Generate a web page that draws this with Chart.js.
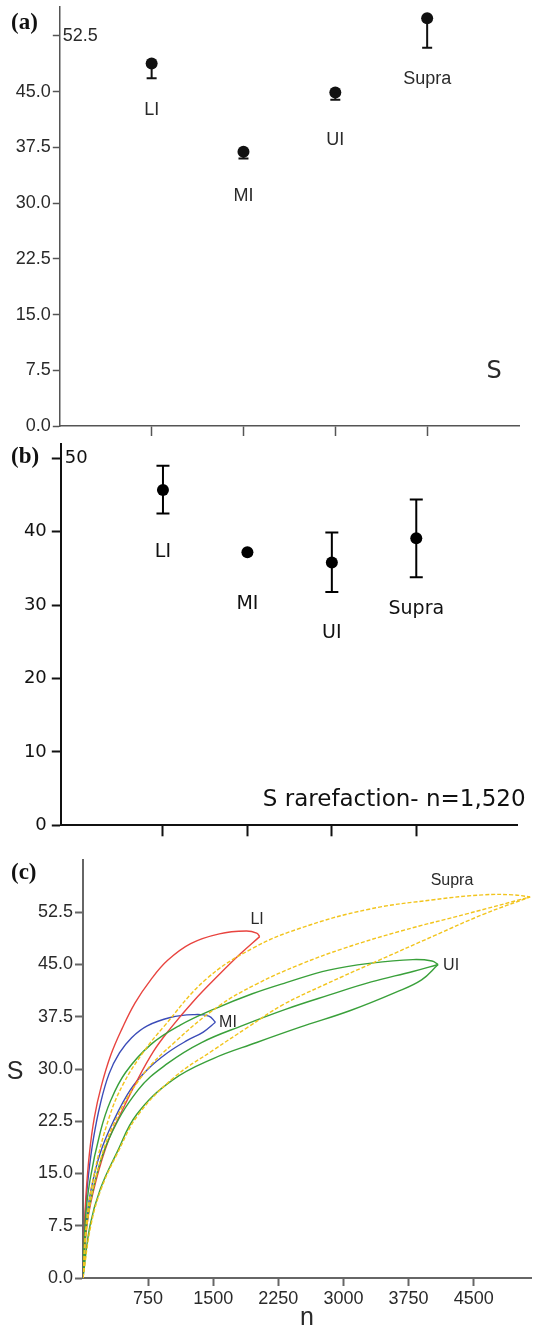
<!DOCTYPE html>
<html>
<head>
<meta charset="utf-8">
<script src="https://cdn.jsdelivr.net/npm/chart.js@4.4.0/dist/chart.umd.min.js"></script>
<style>
  html, body { margin: 0; padding: 0; background: #fff; }
  #wrap { position: relative; width: 533px; height: 1331px; overflow: hidden; }
  canvas { position: absolute; left: 0; }
  #chartA { top: 0; }
  #chartB { top: 436px; }
  #chartC { top: 840px; }
</style>
</head>
<body>
<div id="wrap">
  <canvas id="chartA" width="533" height="445"></canvas>
  <canvas id="chartB" width="533" height="402"></canvas>
  <canvas id="chartC" width="533" height="491"></canvas>
</div>
<script>
// sites along the shore
const sites = ["LI", "MI", "UI", "Supra"];
const sitePos = [1, 2, 3, 4];

// (a) observed richness S, lower end of the bar
const obsS = [48.8, 36.9, 44.9, 54.9];
const obsLow = [46.8, 36.0, 43.9, 50.9];
const obsLabelY = [42.5, 31.0, 38.5, 46.7];
const ticksA = [0, 7.5, 15, 22.5, 30, 37.5, 45, 52.5];

// (b) S rarefied to n = 1,520
const rareS = [45.7, 37.2, 35.8, 39.1];
const rareLow = [42.5, 37.2, 31.8, 33.8];
const rareHigh = [49.0, 37.2, 39.9, 44.4];
const rareLabelY = [37.3, 30.1, 26.2, 29.4];
const ticksB = [0, 10, 20, 30, 40, 50];

// (c) rarefaction curves, [n, S]
const ticksCx = [750, 1500, 2250, 3000, 3750, 4500];
const ticksCy = [0, 7.5, 15, 22.5, 30, 37.5, 45, 52.5];

const liUpper = [[0, 0], [12, 6], [35, 12], [75, 18], [130, 23], [210, 27.5], [320, 32], [450, 35.8], [600, 39.5], [780, 42.8], [975, 45.6], [1240, 48.0], [1570, 49.4], [1880, 49.8], [2000, 49.5], [2035, 49.0]];
const liLower = [[0, 0], [50, 8], [150, 14], [300, 20], [450, 24], [600, 27.8], [810, 32.5], [1005, 35.8], [1270, 39.7], [1580, 43.7], [1810, 46.5], [2035, 49.0]];

const miUpper = [[0, 0], [10, 5], [30, 10], [65, 15], [120, 20], [200, 25], [300, 29.3], [420, 32.3], [560, 34.5], [740, 36.2], [1005, 37.4], [1270, 37.8], [1450, 37.6], [1525, 36.7]];
const miLower = [[0, 0], [30, 7], [90, 12.5], [200, 18], [350, 22.5], [545, 27.0], [740, 29.9], [970, 32.3], [1200, 34.1], [1385, 35.3], [1525, 36.7]];

const uiUpper = [[0, 0], [25, 8], [80, 14], [200, 21], [320, 25.5], [490, 29.5], [780, 33.5], [1120, 36.3], [1510, 38.6], [1950, 40.8], [2340, 42.4], [2830, 44.2], [3320, 45.2], [3800, 45.7], [4020, 45.5], [4090, 45.0]];
const uiMean = [[0, 0], [40, 7.5], [130, 13.5], [300, 20], [635, 27], [975, 30.8], [1365, 33.8], [1850, 36.3], [2340, 38.6], [2830, 40.6], [3320, 42.5], [3800, 44.0], [4090, 45.0]];
const uiLower = [[0, 0], [80, 7.5], [200, 12.8], [390, 18], [620, 23.5], [1030, 28.4], [1500, 31.5], [2000, 33.8], [2500, 36.0], [3080, 38.4], [3600, 41.0], [3900, 42.8], [4090, 45.0]];

const supraUpper = [[0, 0], [40, 8], [130, 15], [300, 23], [470, 28], [700, 32.5], [925, 36], [1410, 42.8], [1950, 47.3], [2500, 50.2], [3280, 52.9], [4040, 54.3], [4610, 55.0], [4950, 55.0], [5150, 54.7]];
const supraMean = [[0, 0], [50, 8], [160, 15], [350, 22], [680, 29], [1070, 34], [1560, 39.0], [2000, 42.2], [2500, 45.0], [3000, 47.3], [3660, 49.8], [4430, 52.3], [5150, 54.7]];
const supraLower = [[0, 0], [90, 7.5], [210, 12.8], [400, 18], [640, 23.5], [1050, 28.8], [1500, 32.7], [1900, 36], [2300, 39.2], [2800, 42.2], [3390, 45.5], [4040, 49.1], [4610, 52.2], [5150, 54.7]];

const curveLabelN = [2005, 1670, 4240, 4250];
const curveLabelS = [51.4, 36.7, 44.9, 57.1];

const RED = "#e8443f";
const BLUE = "#3b4cb8";
const GREEN = "#39a03a";
const YELLOW = "#f2c41c";

const SANS = '"Liberation Sans", Arial, sans-serif';
const DEJAVU = '"DejaVu Sans", sans-serif';
const SERIF = '"Liberation Serif", "Times New Roman", serif';

function toXY(pts) {
  return pts.map(p => ({ x: p[0], y: p[1] }));
}

function fixTicks(values) {
  return scale => { scale.ticks = values.map(v => ({ value: v })); };
}

function axis(opts) {
  return {
    type: "linear",
    min: opts.min,
    max: opts.max,
    afterBuildTicks: fixTicks(opts.ticks),
    afterFit: scale => {
      if (opts.width !== undefined) scale.width = opts.width;
      if (opts.height !== undefined) scale.height = opts.height;
      scale.paddingTop = 0;
      scale.paddingBottom = 0;
      scale.paddingLeft = 0;
      scale.paddingRight = 0;
    },
    border: { display: true, color: opts.color, width: opts.lineWidth },
    grid: {
      drawOnChartArea: false,
      drawTicks: true,
      tickLength: opts.tickLength,
      tickColor: opts.color,
      tickWidth: opts.lineWidth
    },
    ticks: {
      padding: opts.padding || 3,
      color: opts.labelColor || "#333",
      font: { family: opts.family || SANS, size: opts.size || 17 },
      callback: opts.callback || (() => "")
    }
  };
}

const baseOptions = {
  responsive: false,
  animation: false,
  events: [],
  plugins: { legend: { display: false }, tooltip: { enabled: false } }
};

// ---------- (a) ----------
const panelA = {
  id: "panelA",
  afterDatasetsDraw(chart) {
    const { ctx, chartArea, scales: { x, y } } = chart;
    ctx.save();
    ctx.strokeStyle = "#111";
    ctx.lineWidth = 2;
    sitePos.forEach((p, i) => {
      const px = x.getPixelForValue(p);
      const top = y.getPixelForValue(obsS[i]);
      const bot = y.getPixelForValue(obsLow[i]);
      ctx.beginPath();
      ctx.moveTo(px, top);
      ctx.lineTo(px, bot);
      ctx.moveTo(px - 5, bot);
      ctx.lineTo(px + 5, bot);
      ctx.stroke();
    });
    ctx.fillStyle = "#2a2a2a";
    ctx.textAlign = "center";
    ctx.textBaseline = "middle";
    ctx.font = "18px " + SANS;
    sites.forEach((s, i) => {
      ctx.fillText(s, x.getPixelForValue(sitePos[i]), y.getPixelForValue(obsLabelY[i]));
    });
    const topTick = ticksA[ticksA.length - 1];
    ctx.textAlign = "left";
    ctx.fillText(topTick.toFixed(1), chartArea.left + 3, y.getPixelForValue(topTick));
    ctx.textAlign = "center";
    ctx.font = "24px " + DEJAVU;
    ctx.fillText("S", x.getPixelForValue(4.73), y.getPixelForValue(7.3));
    ctx.textAlign = "left";
    ctx.fillStyle = "#111";
    ctx.font = "bold 23px " + SERIF;
    ctx.fillText("(a)", 11, 23);
    ctx.restore();
  }
};

new Chart(document.getElementById("chartA"), {
  type: "scatter",
  data: {
    datasets: [{
      data: sitePos.map((p, i) => ({ x: p, y: obsS[i] })),
      pointRadius: 6,
      pointBackgroundColor: "#111",
      pointBorderWidth: 0,
      clip: false
    }]
  },
  options: Object.assign({}, baseOptions, {
    layout: { padding: { top: 7, right: 14, left: 0, bottom: 0 } },
    scales: {
      x: axis({ min: 0, max: 5, ticks: sitePos, height: 19, tickLength: 10, color: "#555", lineWidth: 1.5 }),
      y: axis({
        min: 0, max: 56.4, ticks: ticksA, width: 59.8, tickLength: 7, color: "#555", lineWidth: 1.5,
        padding: 2, size: 18, labelColor: "#2a2a2a",
        callback: v => (v === ticksA[ticksA.length - 1] ? "" : v.toFixed(1))
      })
    }
  }),
  plugins: [panelA]
});

// ---------- (b) ----------
const panelB = {
  id: "panelB",
  beforeDatasetsDraw(chart) {
    const { ctx, scales: { x, y } } = chart;
    ctx.save();
    ctx.strokeStyle = "#000";
    ctx.lineWidth = 2;
    sitePos.forEach((p, i) => {
      if (rareHigh[i] === rareLow[i]) return;
      const px = x.getPixelForValue(p);
      const hi = y.getPixelForValue(rareHigh[i]);
      const lo = y.getPixelForValue(rareLow[i]);
      ctx.beginPath();
      ctx.moveTo(px, hi);
      ctx.lineTo(px, lo);
      ctx.moveTo(px - 6.5, hi);
      ctx.lineTo(px + 6.5, hi);
      ctx.moveTo(px - 6.5, lo);
      ctx.lineTo(px + 6.5, lo);
      ctx.stroke();
    });
    ctx.restore();
  },
  afterDatasetsDraw(chart) {
    const { ctx, chartArea, scales: { x, y } } = chart;
    ctx.save();
    ctx.fillStyle = "#111";
    ctx.textAlign = "center";
    ctx.textBaseline = "middle";
    ctx.font = "19px " + DEJAVU;
    sites.forEach((s, i) => {
      ctx.fillText(s, x.getPixelForValue(sitePos[i]), y.getPixelForValue(rareLabelY[i]));
    });
    const topTick = ticksB[ticksB.length - 1];
    ctx.textAlign = "left";
    ctx.font = "18px " + DEJAVU;
    ctx.fillText(String(topTick), chartArea.left + 4, y.getPixelForValue(topTick));
    ctx.textAlign = "right";
    ctx.font = "23px " + DEJAVU;
    ctx.fillText("S rarefaction- n=1,520", chartArea.right + 8, y.getPixelForValue(3.4));
    ctx.textAlign = "left";
    ctx.font = "bold 23px " + SERIF;
    ctx.fillText("(b)", 11, 21);
    ctx.restore();
  }
};

new Chart(document.getElementById("chartB"), {
  type: "scatter",
  data: {
    datasets: [{
      data: sitePos.map((p, i) => ({ x: p, y: rareS[i] })),
      pointRadius: 6,
      pointBackgroundColor: "#000",
      pointBorderWidth: 0,
      clip: false
    }]
  },
  options: Object.assign({}, baseOptions, {
    layout: { padding: { top: 7.7, right: 15.4, left: 0, bottom: 0 } },
    scales: {
      x: axis({ min: -0.21, max: 5.2, ticks: sitePos, height: 12.7, tickLength: 11, color: "#111", lineWidth: 2 }),
      y: axis({
        min: 0, max: 52.0, ticks: ticksB, width: 60.8, tickLength: 9, color: "#111", lineWidth: 2,
        padding: 5, size: 18, family: DEJAVU, labelColor: "#111",
        callback: v => (v === ticksB[ticksB.length - 1] ? "" : String(v))
      })
    }
  }),
  plugins: [panelB]
});

// ---------- (c) ----------
function curve(pts, color, dashed) {
  return {
    data: toXY(pts),
    showLine: true,
    borderColor: color,
    borderWidth: 1.4,
    borderDash: dashed ? [4, 2] : [],
    pointRadius: 0,
    fill: false,
    tension: 0.4
  };
}

const panelC = {
  id: "panelC",
  afterDatasetsDraw(chart) {
    const { ctx, chartArea, scales: { x, y } } = chart;
    ctx.save();
    ctx.fillStyle = "#2a2a2a";
    ctx.textAlign = "center";
    ctx.textBaseline = "middle";
    ctx.font = "16px " + SANS;
    sites.forEach((s, i) => {
      ctx.fillText(s, x.getPixelForValue(curveLabelN[i]), y.getPixelForValue(curveLabelS[i]));
    });
    ctx.font = "25px " + SANS;
    ctx.fillText("S", chartArea.left - 68, y.getPixelForValue(29.5));
    ctx.textAlign = "left";
    ctx.fillStyle = "#111";
    ctx.font = "bold 23px " + SERIF;
    ctx.fillText("(c)", 11, 33);
    ctx.restore();
  }
};

const xC = axis({
  min: 0, max: 5160, ticks: ticksCx, height: 53, tickLength: 8, color: "#666", lineWidth: 2,
  padding: 2, size: 18, labelColor: "#2a2a2a", callback: v => String(v)
});
xC.title = { display: true, text: "n", color: "#2a2a2a", font: { family: SANS, size: 25, lineHeight: 1 }, padding: 0 };

new Chart(document.getElementById("chartC"), {
  type: "scatter",
  data: {
    datasets: [
      curve(supraUpper, YELLOW, true),
      curve(supraMean, YELLOW, true),
      curve(supraLower, YELLOW, true),
      curve(uiUpper, GREEN),
      curve(uiMean, GREEN),
      curve(uiLower, GREEN),
      curve(liUpper, RED),
      curve(liLower, RED),
      curve(miUpper, BLUE),
      curve(miLower, BLUE)
    ]
  },
  options: Object.assign({}, baseOptions, {
    layout: { padding: { top: 20, right: 2, left: 0, bottom: 0 } },
    scales: {
      x: xC,
      y: axis({
        min: 0, max: 60, ticks: ticksCy, width: 83, tickLength: 8, color: "#666", lineWidth: 2,
        padding: 2, size: 18, labelColor: "#2a2a2a", callback: v => v.toFixed(1)
      })
    }
  }),
  plugins: [panelC]
});
</script>
</body>
</html>
